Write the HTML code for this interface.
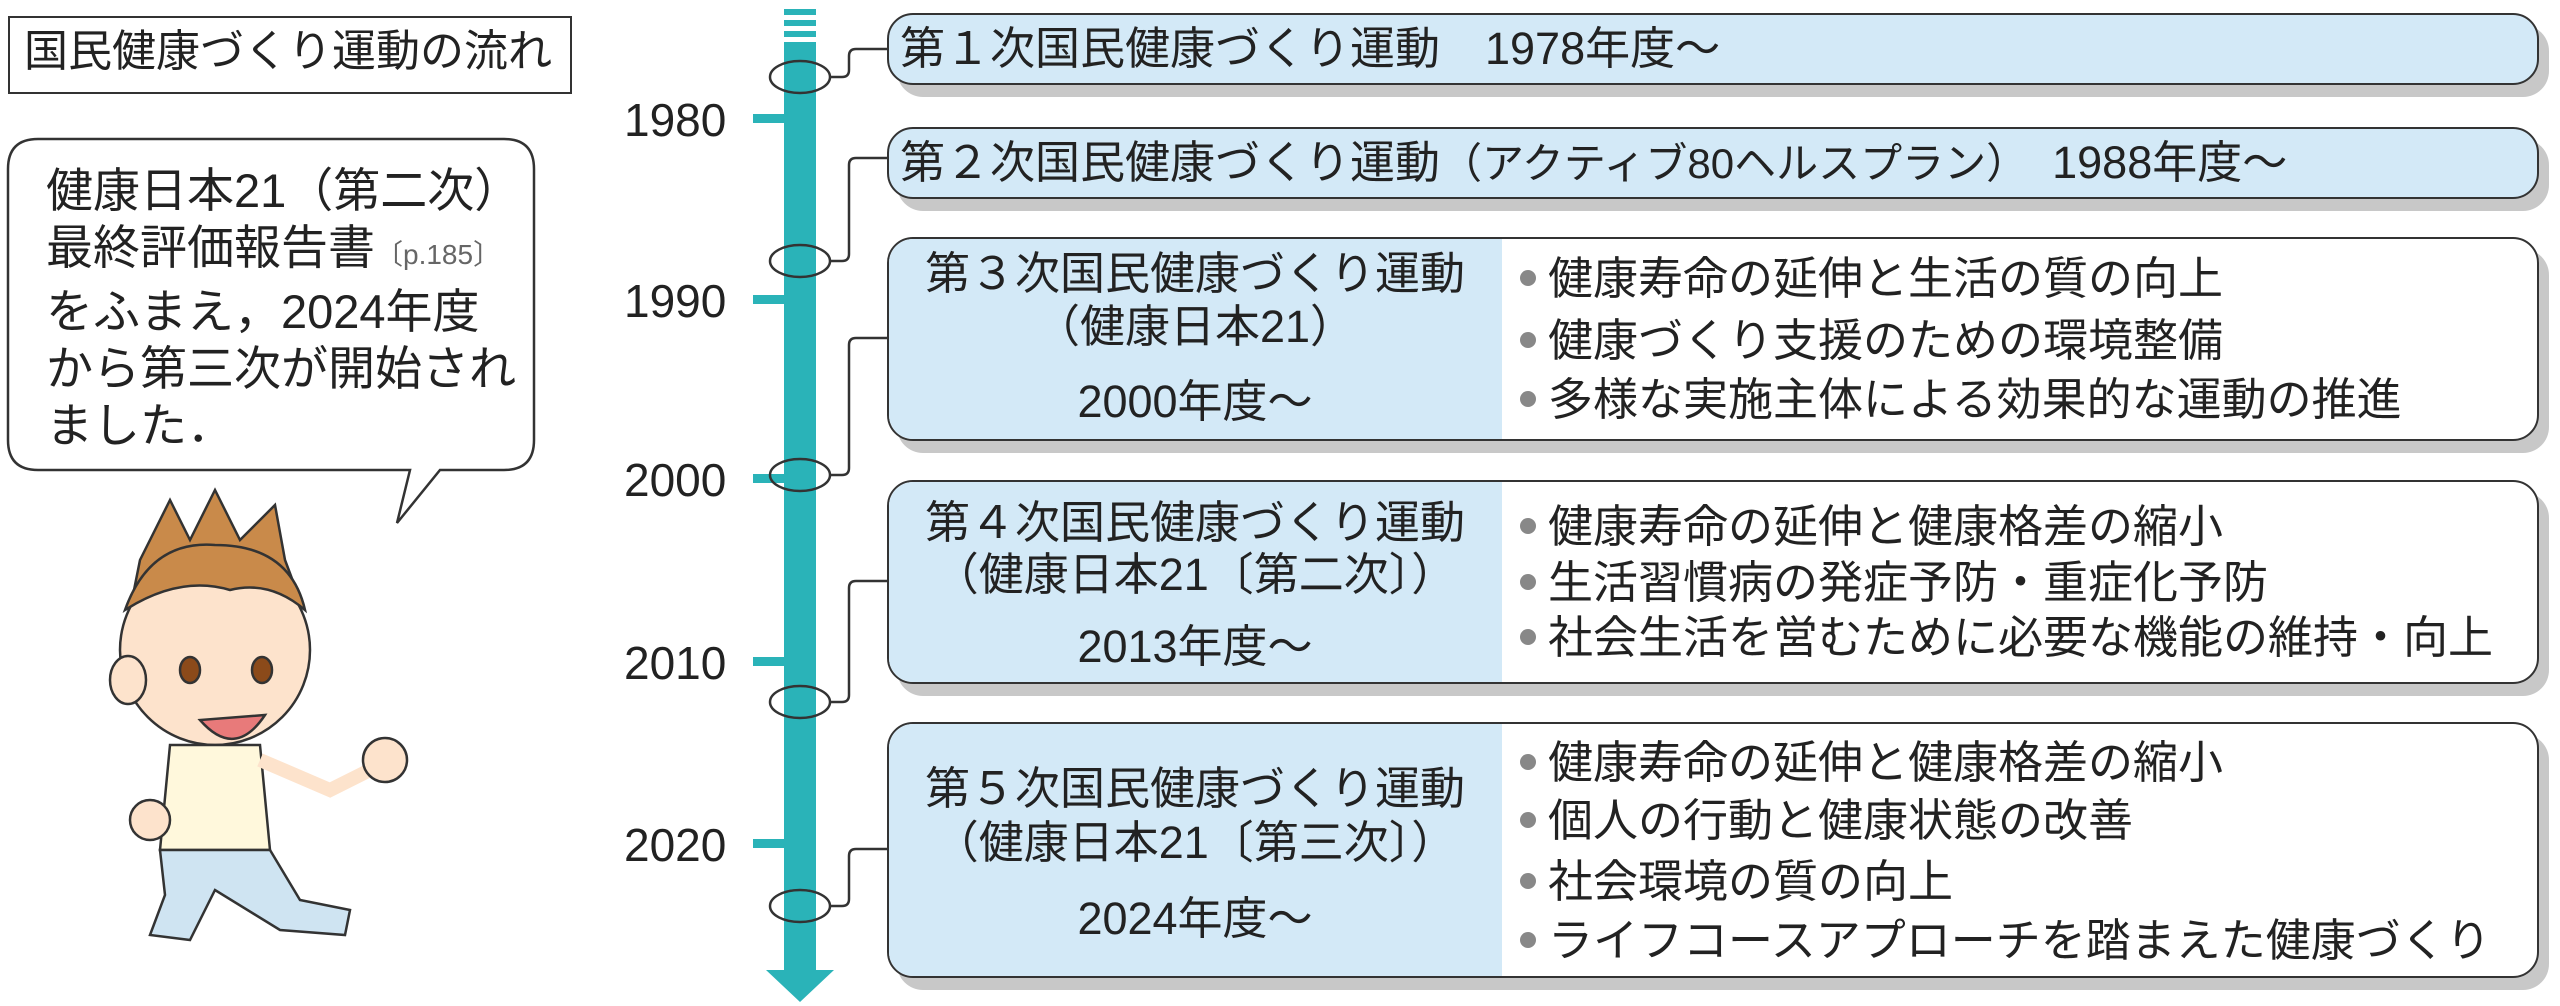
<!DOCTYPE html>
<html><head><meta charset="utf-8"><style>
body{margin:0;width:2560px;height:1006px;background:#fff;position:relative;overflow:hidden;font-family:"Liberation Sans","Noto Sans CJK JP",sans-serif;color:#222}
.a{position:absolute;white-space:nowrap}
.box{position:absolute;border:2.5px solid #333;border-radius:26px;background:#fff;box-shadow:10px 12px 0 #c8c8c8;overflow:hidden}
.blue{background:#d3e9f7}
.lp{position:absolute;left:0;top:0;bottom:0;width:613px;background:#d3e9f7}
.t{font-size:45px;line-height:1}
.dot{display:inline-block;width:16px;height:16px;border-radius:50%;background:#888;margin-right:12px;vertical-align:middle;position:relative;top:-4px}
</style></head><body>
<div class="a" style="left:8px;top:16px;width:560px;height:74px;border:2.5px solid #333;"></div>
<div class="a t" style="left:24px;top:30px;font-size:44px">国民健康づくり運動の流れ</div>

<svg class="a" style="left:0;top:0" width="2560" height="1006">
 <path d="M38 139 H504 Q534 139 534 169 V440 Q534 470 504 470 H440 L397 523 L410 470 H38 Q8 470 8 440 V169 Q8 139 38 139 Z" fill="#fff" stroke="#333" stroke-width="2.5"/>
 <rect x="784" y="9" width="32" height="6" fill="#2ab3b8"/>
 <rect x="784" y="20" width="32" height="6" fill="#2ab3b8"/>
 <rect x="784" y="31" width="32" height="6" fill="#2ab3b8"/>
 <rect x="784" y="42" width="32" height="932" fill="#2ab3b8"/>
 <polygon points="766,970 834,970 800,1002" fill="#2ab3b8"/>
 <g fill="#2ab3b8">
  <rect x="753" y="114" width="31" height="9"/><rect x="753" y="295" width="31" height="9"/>
  <rect x="753" y="474" width="31" height="9"/><rect x="753" y="657" width="31" height="9"/>
  <rect x="753" y="839" width="31" height="9"/>
 </g>
 <g fill="none" stroke="#333" stroke-width="2.5">
  <ellipse cx="800" cy="77" rx="30" ry="16"/><ellipse cx="800" cy="261" rx="30" ry="16"/>
  <ellipse cx="800" cy="475" rx="30" ry="16"/><ellipse cx="800" cy="702" rx="30" ry="16"/>
  <ellipse cx="800" cy="906" rx="30" ry="16"/>
  <path d="M830 77 H842 Q849 77 849 70 V56 Q849 49 856 49 H887"/>
  <path d="M830 261 H842 Q849 261 849 254 V165 Q849 158 856 158 H887"/>
  <path d="M830 475 H842 Q849 475 849 468 V345 Q849 338 856 338 H887"/>
  <path d="M830 702 H842 Q849 702 849 695 V588 Q849 581 856 581 H887"/>
  <path d="M830 906 H842 Q849 906 849 899 V856 Q849 849 856 849 H887"/>
 </g>
 <g stroke="#333" stroke-width="2.5">
  <path d="M140 560 L170 500 L190 540 L215 490 L240 540 L275 505 L285 560 L300 600 L130 610 Z" fill="#c98a4a"/>
  <ellipse cx="215" cy="650" rx="95" ry="95" fill="#fde3cc"/>
  <path d="M125 610 Q150 540 215 545 Q290 545 305 610 Q270 580 230 590 Q180 575 125 610Z" fill="#c98a4a"/>
  <ellipse cx="128" cy="680" rx="18" ry="24" fill="#fde3cc"/>
  <ellipse cx="190" cy="670" rx="10" ry="13" fill="#8b4a1a"/>
  <ellipse cx="262" cy="670" rx="10" ry="13" fill="#8b4a1a"/>
  <path d="M200 720 Q235 760 265 715 Z" fill="#e87a7a"/>
  <path d="M170 745 L260 745 L270 850 L160 850 Z" fill="#fff8dc"/>
  <path d="M160 850 L270 850 L300 900 L350 910 L345 935 L280 930 L215 890 L190 940 L150 935 L165 895 Z" fill="#cfe4f2"/>
  <path d="M260 760 L330 790 L370 770" fill="none" stroke-width="14" stroke="#fde3cc"/>
  <circle cx="385" cy="760" r="22" fill="#fde3cc"/>
  <circle cx="150" cy="820" r="20" fill="#fde3cc"/>
 </g>
</svg>

<div class="a t" style="left:46px;top:162px;font-size:47px;line-height:57px">健康日本21（第二次）<br>最終評価報告書<span style="font-size:28px;color:#666">〔p.185〕</span><br>をふまえ，2024年度<br>から第三次が開始され<br>ました．</div>

<div class="a" style="left:624px;top:93px;font-size:46px">1980</div>
<div class="a" style="left:624px;top:274px;font-size:46px">1990</div>
<div class="a" style="left:624px;top:453px;font-size:46px">2000</div>
<div class="a" style="left:624px;top:636px;font-size:46px">2010</div>
<div class="a" style="left:624px;top:818px;font-size:46px">2020</div>

<div class="box blue" style="left:887px;top:13px;width:1648px;height:68px"></div>
<div class="a t" style="left:900px;top:26px">第１次国民健康づくり運動　1978年度〜</div>
<div class="box blue" style="left:887px;top:127px;width:1648px;height:68px"></div>
<div class="a t" style="left:900px;top:140px">第２次国民健康づくり運動<span style="font-size:42px">（アクティブ80ヘルスプラン）</span>　1988年度〜</div>

<div class="box" style="left:887px;top:237px;width:1648px;height:200px"><div class="lp"></div></div>
<div class="a t" style="left:887px;width:616px;text-align:center;top:251px">第３次国民健康づくり運動</div>
<div class="a t" style="left:887px;width:616px;text-align:center;top:304px">（健康日本21）</div>
<div class="a t" style="left:887px;width:616px;text-align:center;top:379px">2000年度〜</div>
<div class="a t" style="left:1520px;top:256px"><span class="dot"></span>健康寿命の延伸と生活の質の向上</div>
<div class="a t" style="left:1520px;top:318px"><span class="dot"></span>健康づくり支援のための環境整備</div>
<div class="a t" style="left:1520px;top:377px"><span class="dot"></span>多様な実施主体による効果的な運動の推進</div>

<div class="box" style="left:887px;top:480px;width:1648px;height:200px"><div class="lp"></div></div>
<div class="a t" style="left:887px;width:616px;text-align:center;top:500px">第４次国民健康づくり運動</div>
<div class="a t" style="left:887px;width:616px;text-align:center;top:552px">（健康日本21〔第二次〕）</div>
<div class="a t" style="left:887px;width:616px;text-align:center;top:624px">2013年度〜</div>
<div class="a t" style="left:1520px;top:504px"><span class="dot"></span>健康寿命の延伸と健康格差の縮小</div>
<div class="a t" style="left:1520px;top:560px"><span class="dot"></span>生活習慣病の発症予防・重症化予防</div>
<div class="a t" style="left:1520px;top:615px"><span class="dot"></span>社会生活を営むために必要な機能の維持・向上</div>

<div class="box" style="left:887px;top:722px;width:1648px;height:252px"><div class="lp"></div></div>
<div class="a t" style="left:887px;width:616px;text-align:center;top:766px">第５次国民健康づくり運動</div>
<div class="a t" style="left:887px;width:616px;text-align:center;top:820px">（健康日本21〔第三次〕）</div>
<div class="a t" style="left:887px;width:616px;text-align:center;top:896px">2024年度〜</div>
<div class="a t" style="left:1520px;top:740px"><span class="dot"></span>健康寿命の延伸と健康格差の縮小</div>
<div class="a t" style="left:1520px;top:798px"><span class="dot"></span>個人の行動と健康状態の改善</div>
<div class="a t" style="left:1520px;top:859px"><span class="dot"></span>社会環境の質の向上</div>
<div class="a t" style="left:1520px;top:918px"><span class="dot"></span>ライフコースアプローチを踏まえた健康づくり</div>
</body></html>
